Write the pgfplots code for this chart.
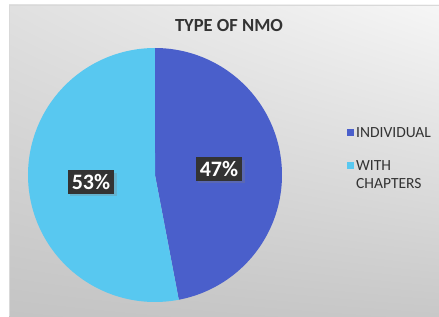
\documentclass[border=0pt]{standalone}
\usepackage{pgfplots}
\pgfplotsset{compat=1.18}
\usetikzlibrary{shadings,shadows}
\usepackage{fontspec}
\setmainfont{Carlito}
\definecolor{indiv}{HTML}{4A5FCB}
\definecolor{chap}{HTML}{58C8F0}
\definecolor{lblbox}{HTML}{333333}
\definecolor{bgUL}{HTML}{E0E0E0}
\definecolor{bgUR}{HTML}{F6F6F6}
\definecolor{bgLL}{HTML}{C4C4C4}
\definecolor{bgLR}{HTML}{C8C8C8}
\begin{document}
\begin{tikzpicture}[x=1pt,y=1pt]
\useasboundingbox (0,0) rectangle (439,316);
\fill[white] (0,0) rectangle (439,316);
\shade[upper left=bgUL, upper right=bgUR, lower left=bgLL, lower right=bgLR]
  (9,0) rectangle (439,311);
\draw[gray!30, line width=0.8pt] (9,0) -- (9,311) -- (439,311);
% data
\def\vA{47}% INDIVIDUAL
\def\vB{53}% WITH CHAPTERS
\pgfmathsetmacro{\aStart}{90}
\pgfmathsetmacro{\aMid}{90-\vA/(\vA+\vB)*360}
\pgfmathsetmacro{\aEnd}{\aMid-\vB/(\vA+\vB)*360}
\begin{axis}[at={(0,0)}, anchor=south west, scale only axis,
  width=439pt, height=316pt, xmin=0, xmax=439, ymin=0, ymax=316,
  hide axis, clip=false,
  legend style={at={(axis cs:344,193)}, anchor=north west, draw=none, fill=none,
    font=\fontsize{15.5}{18}\selectfont, text=black!80, row sep=15pt,
    cells={anchor=base west}},
  legend image code/.code={\fill[#1] (0pt,1.5pt) rectangle (7pt,8.5pt);}]
\addplot[fill=indiv, draw=none, domain=\aMid:\aStart, samples=120, variable=\t]
  ({155+127*cos(\t)},{141+127*sin(\t)}) -- (axis cs:155,141) -- cycle;
\addlegendentry{INDIVIDUAL}
\addplot[fill=chap, draw=none, domain=\aEnd:\aMid, samples=120, variable=\t]
  ({155+127*cos(\t)},{141+127*sin(\t)}) -- (axis cs:155,141) -- cycle;
\addlegendentry{\begin{tabular}[t]{@{}l@{}}WITH\\CHAPTERS\end{tabular}}
\node[fill=lblbox, text=white, font=\fontsize{22}{24}\selectfont\bfseries,
  inner xsep=4pt, inner ysep=4pt, drop shadow={opacity=0.3}] at (axis cs:219,147) {\vA\%};
\node[fill=lblbox, text=white, font=\fontsize{22}{24}\selectfont\bfseries,
  inner xsep=4pt, inner ysep=4pt, drop shadow={opacity=0.3}] at (axis cs:91,134) {\vB\%};
\end{axis}
\node[font=\fontsize{18.5}{21}\selectfont\bfseries, text=black!80] at (229,290) {TYPE OF NMO};
\end{tikzpicture}
\end{document}
